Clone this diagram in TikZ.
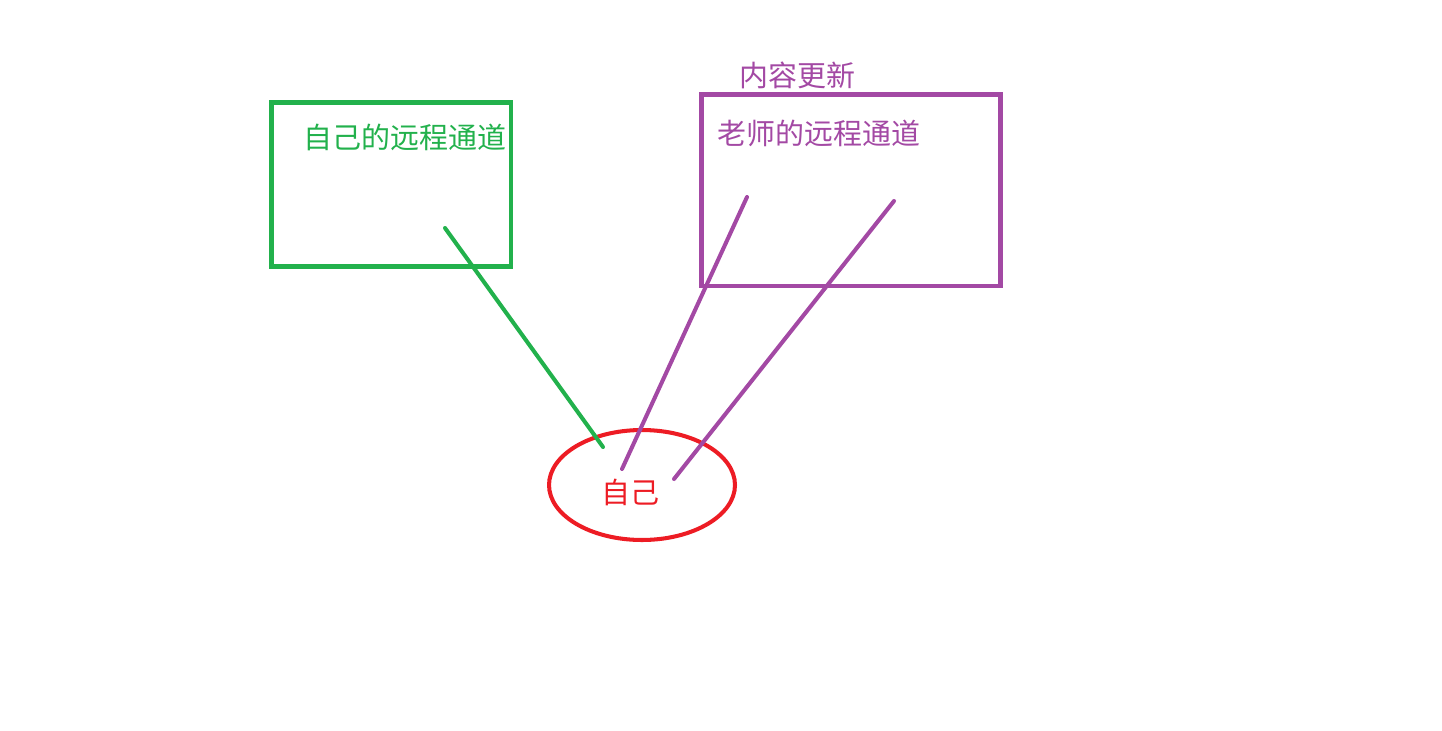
\documentclass[tikz,border=0pt]{standalone}
\usepackage{fontspec}
\usepackage{xcolor}
\usepackage{tikz}
\usetikzlibrary{positioning,shapes.geometric}
\newfontfamily\cjk{Noto Sans CJK SC}
\definecolor{paintgreen}{RGB}{34,177,76}
\definecolor{paintpurple}{RGB}{163,73,164}
\definecolor{paintred}{RGB}{237,28,36}
\tikzset{
  frame/.style={draw,line width=2.8pt,inner sep=0pt,outer sep=0pt,anchor=north west},
  label/.style={font=\cjk\fontsize{16.5}{18}\selectfont,inner sep=0pt},
  wire/.style={line width=2.3pt,line cap=round},
  selfring/.style={ellipse,draw=paintred,line width=2.3pt,
    minimum width=3.72cm,minimum height=2.2cm,inner sep=0pt},
}
\begin{document}
\begin{tikzpicture}[x=0.02cm,y=-0.02cm]
  \useasboundingbox (0,0) rectangle (1442,730);

  \node[frame,draw=paintgreen,minimum width=4.79cm,minimum height=3.28cm] (mybox) at (271.5,102.5) {};
  \node[frame,draw=paintpurple,minimum width=5.98cm,minimum height=3.83cm] (tbox) at (701.5,94.5) {};

  \node[label,text=paintgreen] (mytitle) at (405,137) {自己的远程通道};
  \node[label,text=paintpurple] (ttitle) at (819,133.5) {老师的远程通道};
  \node[label,text=paintpurple] (update) at (797.5,75.5) {内容更新};

  \node[selfring] (me) at (642,485) {};
  \node[label,text=paintred] (metext) at (630,492) {自己};

  \coordinate (myport) at (445,228);
  \coordinate (tport1) at (747,197);
  \coordinate (tport2) at (894,201);
  \coordinate (myend) at (603,447);
  \coordinate (tend1) at (622,469);
  \coordinate (tend2) at (674,479);

  \draw[wire,paintgreen] (myport) -- (myend);
  \draw[wire,paintpurple] (tport1) -- (tend1);
  \draw[wire,paintpurple] (tport2) -- (tend2);
\end{tikzpicture}
\end{document}
